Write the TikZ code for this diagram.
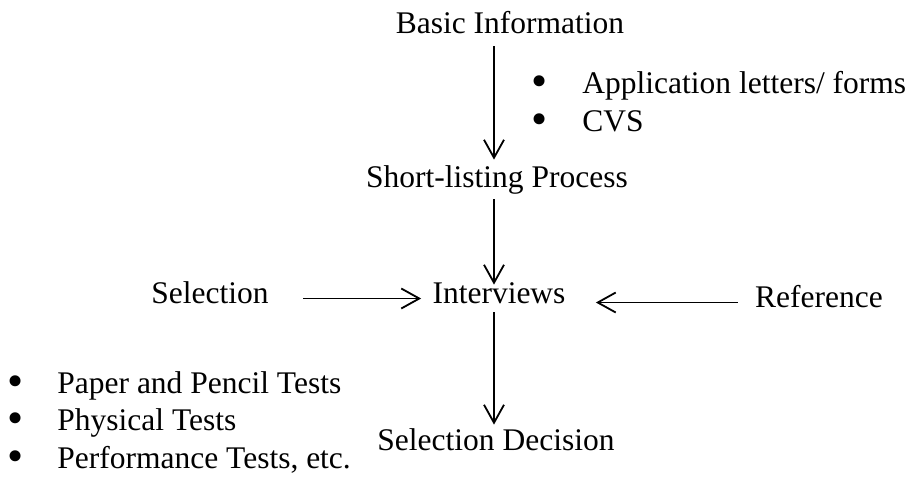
\documentclass[tikz,border=0pt]{standalone}
\usepackage{fontspec}
\setmainfont{Liberation Serif}
\usetikzlibrary{arrows.meta}

\begin{document}
\begin{tikzpicture}[x=0.5pt,y=-0.5pt,
  lbl/.style={inner sep=0pt,text height=0.7em,text depth=0.25em,
    font=\fontsize{15.75pt}{19pt}\selectfont},
  dot/.style={inner sep=0pt,text height=0.55em,text depth=0pt,
    font=\fontsize{23pt}{23pt}\selectfont},
  arr/.style={line width=0.9pt,-{Straight Barb[length=9pt,width=10pt,line width=0.9pt]}}]
\useasboundingbox (0,0) rectangle (910,479);
\coordinate (spine) at (494,0);

\node[lbl,anchor=base] (info) at (510,33) {Basic Information};
\node[lbl,anchor=base] (short) at (497,187) {Short-listing Process};
\node[lbl,anchor=base] (interv) at (499,303) {Interviews};
\node[lbl,anchor=base] (sel) at (210,303) {Selection};
\node[lbl,anchor=base] (ref) at (819,307) {Reference};
\node[lbl,anchor=base] (dec) at (496,450) {Selection Decision};

% documents
\node[dot,anchor=base] (b1) at (540,96) {\textbullet};
\node[lbl,anchor=base west] (app) at (582,93) {Application letters/ forms};
\node[dot,anchor=base] (b2) at (540,134) {\textbullet};
\node[lbl,anchor=base west] (cvs) at (582,131) {CVS};

% tests
\node[dot,anchor=base] (b3) at (16,396) {\textbullet};
\node[lbl,anchor=base west] (paper) at (57,393) {Paper and Pencil Tests};
\node[dot,anchor=base] (b4) at (16,433) {\textbullet};
\node[lbl,anchor=base west] (phys) at (57,430) {Physical Tests};
\node[dot,anchor=base] (b5) at (16,471) {\textbullet};
\node[lbl,anchor=base west] (perf) at (57,468) {Performance Tests, etc.};

\draw[arr,shorten <=4pt,shorten >=6.5pt] (info.south -| spine) -- (short.north -| spine);
\draw[arr,shorten <=3.5pt,shorten >=2pt] (short.south -| spine) -- (interv.north -| spine);
\draw[arr,shorten <=2pt,shorten >=5.5pt] (interv.south -| spine) -- (dec.north -| spine);
\draw[arr,shorten <=17pt,shorten >=5.5pt] (sel.east) -- (interv.west);
\draw[arr,shorten <=8.5pt,shorten >=15pt] (ref.west) -- (interv.east |- ref.west);

\end{tikzpicture}
\end{document}
